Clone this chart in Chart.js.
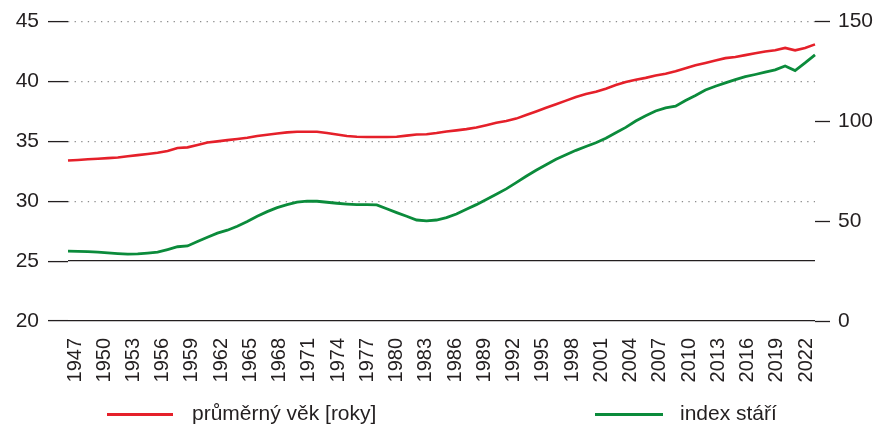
<!DOCTYPE html>
<html lang="cs">
<head>
<meta charset="utf-8">
<title>Průměrný věk a index stáří</title>
<script src="https://cdn.jsdelivr.net/npm/chart.js@4.4.1/dist/chart.umd.min.js"></script>
<style>
  body { margin: 0; background: #fff; }
  #wrap { position: relative; width: 874px; height: 425px; }
  .legend-item {
    position: absolute; top: 401px; height: 24px;
    display: flex; align-items: center;
    font-family: "Liberation Sans", Arial, sans-serif; font-size: 21px; color: #231f20;
  }
  .legend-item i { display: inline-block; height: 3px; margin-top: 3px; }
</style>
</head>
<body>
<div id="wrap">
  <canvas id="chart"></canvas>
  <div class="legend-item" style="left:107px"><i style="width:66px;margin-right:19px;background:#e5202a"></i>průměrný věk [roky]</div>
  <div class="legend-item" style="left:595px"><i style="width:68px;margin-right:17px;background:#0b8b3b"></i>index stáří</div>
</div>
<script>
const years = [
  1947, 1948, 1949, 1950, 1951, 1952, 1953, 1954, 1955, 1956,
  1957, 1958, 1959, 1960, 1961, 1962, 1963, 1964, 1965, 1966,
  1967, 1968, 1969, 1970, 1971, 1972, 1973, 1974, 1975, 1976,
  1977, 1978, 1979, 1980, 1981, 1982, 1983, 1984, 1985, 1986,
  1987, 1988, 1989, 1990, 1991, 1992, 1993, 1994, 1995, 1996,
  1997, 1998, 1999, 2000, 2001, 2002, 2003, 2004, 2005, 2006,
  2007, 2008, 2009, 2010, 2011, 2012, 2013, 2014, 2015, 2016,
  2017, 2018, 2019, 2020, 2021, 2022
];

// průměrný věk [roky] - left axis
const avgAge = [
  33.4, 33.45, 33.5, 33.55, 33.6, 33.65, 33.75, 33.85, 33.95, 34.05,
  34.2, 34.45, 34.5, 34.7, 34.9, 35.0, 35.1, 35.2, 35.3, 35.45,
  35.55, 35.65, 35.75, 35.8, 35.8, 35.8, 35.7, 35.57, 35.45, 35.38,
  35.37, 35.36, 35.36, 35.38, 35.48, 35.57, 35.6, 35.7, 35.82, 35.92,
  36.02, 36.15, 36.35, 36.55, 36.7, 36.9, 37.2, 37.5, 37.8, 38.1,
  38.4, 38.7, 38.95, 39.15, 39.4, 39.7, 39.95, 40.15, 40.3, 40.5,
  40.65, 40.85, 41.1, 41.35, 41.55, 41.75, 41.95, 42.05, 42.2, 42.35,
  42.5, 42.6, 42.8, 42.6, 42.8, 43.1
];

// index stáří - right axis
const ageIndex = [
  35.0, 34.9, 34.8, 34.5, 34.1, 33.8, 33.5, 33.6, 34.0, 34.5,
  35.8, 37.2, 37.6, 39.8, 42.0, 44.0, 45.5, 47.5, 49.8, 52.5,
  54.8, 56.8, 58.3, 59.6, 60.1, 60.0, 59.5, 59.0, 58.6, 58.3,
  58.3, 58.2, 56.2, 54.3, 52.5, 50.6, 50.2, 50.6, 51.8, 53.6,
  56.0, 58.3, 60.9, 63.5, 66.2, 69.3, 72.5, 75.5, 78.3, 81.0,
  83.3, 85.5, 87.4, 89.3, 91.6, 94.3, 97.0, 100.2, 102.8, 105.2,
  106.8, 107.6, 110.5, 113.0, 115.7, 117.6, 119.3, 120.9, 122.4, 123.5,
  124.7, 125.8, 127.8, 125.5, 129.3, 133.3
];

const yearTicks = [
  1947, 1950, 1953, 1956, 1959, 1962, 1965, 1968, 1971, 1974, 1977, 1980, 1983,
  1986, 1989, 1992, 1995, 1998, 2001, 2004, 2007, 2010, 2013, 2016, 2019, 2022
];

const ink = '#231f20';
const fontFamily = "'Liberation Sans', Arial, sans-serif";

new Chart(document.getElementById('chart'), {
    type: 'line',
    data: {
        labels: years,
        datasets: [{
            label: 'průměrný věk [roky]',
            data: avgAge,
            borderColor: '#e5202a',
            borderWidth: 2.6,
            pointRadius: 0,
            tension: 0,
            xAxisID: 'x',
            yAxisID: 'y'
        }, {
            label: 'index stáří',
            data: ageIndex,
            borderColor: '#0b8b3b',
            borderWidth: 2.8,
            pointRadius: 0,
            tension: 0,
            xAxisID: 'x',
            yAxisID: 'y1'
        }]
    },
    options: {
        responsive: true,
        maintainAspectRatio: false,
        animation: false,
        layout: { padding: { top: 19, right: 0, bottom: 0, left: 0 } },
        plugins: {
            legend: { display: false },
            tooltip: { enabled: false }
        },
        scales: {
            x: { type: 'category', display: false, offset: false },
            // year labels sit on their own axis (slightly tighter spacing than the lines)
            xLabels: {
                type: 'linear',
                position: 'bottom',
                min: 1946.28,
                max: 2022.92,
                afterBuildTicks: s => { s.ticks = yearTicks.map(v => ({ value: v })); },
                afterFit: s => { s.height = 104; },
                grid: { display: false, drawTicks: false },
                border: { display: false },
                ticks: {
                    autoSkip: false,
                    minRotation: 90,
                    maxRotation: 90,
                    padding: 17,
                    color: ink,
                    font: { family: fontFamily, size: 20 },
                    callback: v => String(v)
                }
            },
            y: {
                position: 'left',
                min: 20,
                max: 45,
                afterFit: s => { s.width = 68; },
                ticks: { stepSize: 5, padding: 9, color: ink, font: { family: fontFamily, size: 21 } },
                grid: {
                    color: c => (c.tick && c.tick.value > 25) ? '#8c8c8c' : 'rgba(0,0,0,0)',
                    lineWidth: 1.2,
                    tickColor: ink,
                    tickLength: 20,
                    tickWidth: 1.3,
                    tickBorderDash: []
                },
                border: { display: false, dash: [1.3, 5.3] }
            },
            // solid lines at 20 and 25
            ySolid: {
                position: 'left',
                min: 20,
                max: 45,
                afterFit: s => { s.width = 0; },
                ticks: { display: false, stepSize: 5 },
                grid: {
                    color: c => (c.tick && c.tick.value <= 25) ? ink : 'rgba(0,0,0,0)',
                    lineWidth: 1.3,
                    drawTicks: false
                },
                border: { display: false }
            },
            y1: {
                position: 'right',
                min: 0,
                max: 150,
                afterFit: s => { s.width = 59; },
                ticks: { stepSize: 50, padding: 8, color: ink, font: { family: fontFamily, size: 21 } },
                grid: {
                    drawOnChartArea: false,
                    tickColor: ink,
                    tickLength: 15,
                    tickWidth: 1.3
                },
                border: { display: false }
            }
        }
    }
});
</script>
</body>
</html>
